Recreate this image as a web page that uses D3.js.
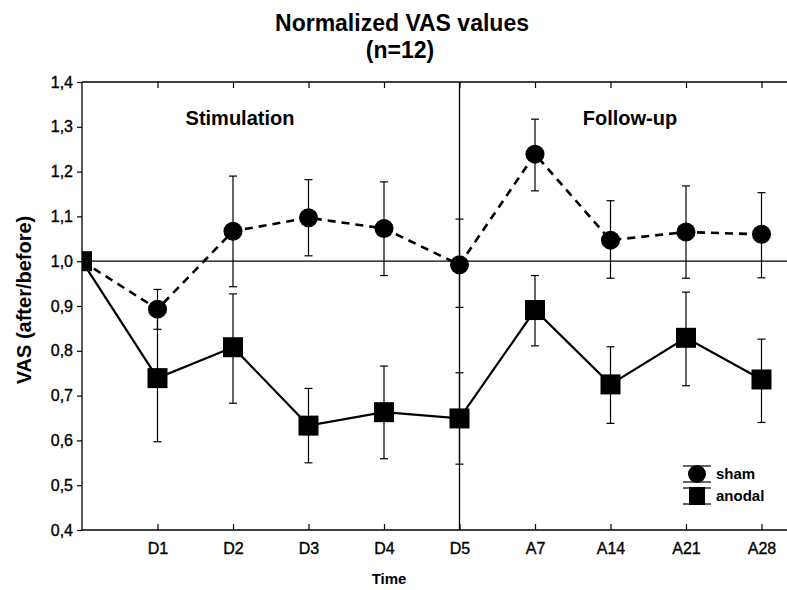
<!DOCTYPE html>
<html><head><meta charset="utf-8">
<script src="https://cdn.jsdelivr.net/npm/d3@7/dist/d3.min.js"></script>
<style>
body{margin:0;background:#fff}
svg{display:block}
text{font-family:"Liberation Sans",Arial,Helvetica,sans-serif;fill:#000}
</style>
</head><body>
<svg id="c" width="787" height="590"></svg>
<script>
const categories = ["", "D1", "D2", "D3", "D4", "D5", "A7", "A14", "A21", "A28"];
const shamMean   = [1.0, 0.893, 1.067, 1.097, 1.073, 0.992, 1.239, 1.047, 1.065, 1.060];
const shamLow    = [null, 0.848, 0.943, 1.012, 0.968, 0.897, 1.157, 0.962, 0.962, 0.963];
const shamHigh   = [null, 0.937, 1.190, 1.182, 1.177, 1.094, 1.317, 1.135, 1.168, 1.153];
const anodalMean = [1.0, 0.739, 0.808, 0.633, 0.663, 0.649, 0.891, 0.725, 0.829, 0.736];
const anodalLow  = [null, 0.597, 0.683, 0.550, 0.559, 0.547, 0.811, 0.638, 0.722, 0.640];
const anodalHigh = [null, 0.881, 0.927, 0.716, 0.766, 0.751, 0.968, 0.809, 0.931, 0.826];
const yTicks = [0.4, 0.5, 0.6, 0.7, 0.8, 0.9, 1.0, 1.1, 1.2, 1.3, 1.4];
const seriesNames = ["sham", "anodal"];
const dividerCategory = "D5";
const referenceValue = 1.0;

const svg = d3.select("#c");
const L = 82, T = 82, B = 530, R = 787;
const x = d3.scalePoint().domain(categories).range([L, L + 9 * 75.5]);
const y = d3.scaleLinear().domain([0.4, 1.4]).range([B, T]);

svg.append("defs").append("clipPath").attr("id", "clip")
  .append("rect").attr("x", L).attr("y", T).attr("width", R - L).attr("height", B - T);

// frame
const frame = svg.append("g").attr("stroke", "#000").attr("stroke-width", 1.3).attr("fill", "none");
frame.append("line").attr("x1", L).attr("x2", R).attr("y1", T).attr("y2", T);
frame.append("line").attr("x1", L).attr("x2", R).attr("y1", B).attr("y2", B);
frame.append("line").attr("x1", L).attr("x2", L).attr("y1", T).attr("y2", B);

const labelFont = "'Liberation Sans',Arial,sans-serif";
// y axis
const yAxis = d3.axisLeft(y).tickValues(yTicks).tickSize(5).tickPadding(4)
  .tickFormat(d => d3.format(".1f")(d).replace(".", ","));
const gy = svg.append("g").attr("transform", `translate(${L},0)`).call(yAxis);
gy.select(".domain").remove();
gy.selectAll("line").attr("stroke", "#000").attr("stroke-width", 1.2);
gy.selectAll("text").style("font-size", "16px").style("font-family", labelFont)
  .attr("stroke", "#000").attr("stroke-width", 0.35);

// bottom axis (inward ticks)
const tickCats = categories.slice(1);
const xAxis = d3.axisBottom(x).tickValues(tickCats).tickSizeInner(-6).tickSizeOuter(0).tickPadding(13);
const gx = svg.append("g").attr("transform", `translate(0,${B})`).call(xAxis);
gx.select(".domain").remove();
gx.selectAll("line").attr("stroke", "#000").attr("stroke-width", 1.2);
gx.selectAll("text").style("font-size", "16px").style("font-family", labelFont)
  .attr("stroke", "#000").attr("stroke-width", 0.35);

// top axis ticks
const xTop = d3.axisTop(x).tickValues(tickCats).tickSizeInner(-6).tickSizeOuter(0).tickFormat("");
const gt = svg.append("g").attr("transform", `translate(0,${T})`).call(xTop);
gt.select(".domain").remove();
gt.selectAll("line").attr("stroke", "#000").attr("stroke-width", 1.2);

// reference lines
svg.append("line").attr("x1", L).attr("x2", R).attr("y1", y(referenceValue)).attr("y2", y(referenceValue))
  .attr("stroke", "#000").attr("stroke-width", 1.3);
svg.append("line").attr("x1", x(dividerCategory)).attr("x2", x(dividerCategory)).attr("y1", T).attr("y2", B)
  .attr("stroke", "#000").attr("stroke-width", 1.3);

// titles
svg.append("text").attr("x", 402).attr("y", 31).attr("text-anchor", "middle")
  .style("font-size", "23px").style("font-weight", "bold").text("Normalized VAS values");
svg.append("text").attr("x", 400).attr("y", 58).attr("text-anchor", "middle")
  .style("font-size", "23px").style("font-weight", "bold").text("(n=12)");
svg.append("text").attr("x", 240).attr("y", 125).attr("text-anchor", "middle")
  .style("font-size", "20px").style("font-weight", "bold").text("Stimulation");
svg.append("text").attr("x", 630).attr("y", 125).attr("text-anchor", "middle")
  .style("font-size", "20px").style("font-weight", "bold").text("Follow-up");
svg.append("text").attr("x", 389).attr("y", 584).attr("text-anchor", "middle")
  .style("font-size", "15px").style("font-weight", "bold").text("Time");
svg.append("text").attr("transform", "translate(31,300) rotate(-90)").attr("text-anchor", "middle")
  .style("font-size", "20px").style("font-weight", "bold").text("VAS (after/before)");

function drawSeries(mean, low, high, dashed, marker) {
  const pts = categories.map((c, i) => ({c, i, m: mean[i], lo: low[i], hi: high[i]}));
  const g = svg.append("g");
  // error bars
  const eb = g.selectAll(".eb").data(pts.filter(p => p.lo !== null)).enter().append("g")
    .attr("stroke", "#000").attr("stroke-width", 1.2);
  eb.append("line").attr("x1", p => x(p.c)).attr("x2", p => x(p.c)).attr("y1", p => y(p.lo)).attr("y2", p => y(p.hi));
  eb.append("line").attr("x1", p => x(p.c) - 4).attr("x2", p => x(p.c) + 4).attr("y1", p => y(p.lo)).attr("y2", p => y(p.lo));
  eb.append("line").attr("x1", p => x(p.c) - 4).attr("x2", p => x(p.c) + 4).attr("y1", p => y(p.hi)).attr("y2", p => y(p.hi));
  // line
  const line = d3.line().x(p => x(p.c)).y(p => y(p.m));
  g.append("path").datum(pts).attr("d", line).attr("fill", "none").attr("stroke", "#000")
    .attr("stroke-width", dashed ? 2.6 : 2.2)
    .attr("stroke-dasharray", dashed ? "8,6" : null);
  // markers
  const mg = g.append("g").attr("clip-path", "url(#clip)");
  if (marker === "circle") {
    mg.selectAll("circle").data(pts).enter().append("circle")
      .attr("cx", p => x(p.c)).attr("cy", p => y(p.m)).attr("r", 9.5).attr("fill", "#000");
  } else {
    mg.selectAll("rect").data(pts).enter().append("rect")
      .attr("x", p => x(p.c) - 10).attr("y", p => y(p.m) - 10).attr("width", 20).attr("height", 20).attr("fill", "#000");
  }
}
drawSeries(shamMean, shamLow, shamHigh, true, "circle");
drawSeries(anodalMean, anodalLow, anodalHigh, false, "square");

// legend
const legY = [474, 496];
seriesNames.forEach((name, i) => {
  const cx = 697, cy = legY[i];
  const lg = svg.append("g");
  lg.append("line").attr("x1", cx - 14).attr("x2", cx + 14).attr("y1", cy - 8).attr("y2", cy - 8).attr("stroke", "#000").attr("stroke-width", 1.2);
  lg.append("line").attr("x1", cx - 14).attr("x2", cx + 14).attr("y1", cy + 8).attr("y2", cy + 8).attr("stroke", "#000").attr("stroke-width", 1.2);
  if (i === 0) lg.append("circle").attr("cx", cx).attr("cy", cy).attr("r", 9).attr("fill", "#000");
  else lg.append("rect").attr("x", cx - 8).attr("y", cy - 9).attr("width", 16).attr("height", 18).attr("fill", "#000");
  lg.append("text").attr("x", 716).attr("y", cy + 5).style("font-size", "15px").style("font-weight", "bold").text(name);
});
</script>
</body></html>
